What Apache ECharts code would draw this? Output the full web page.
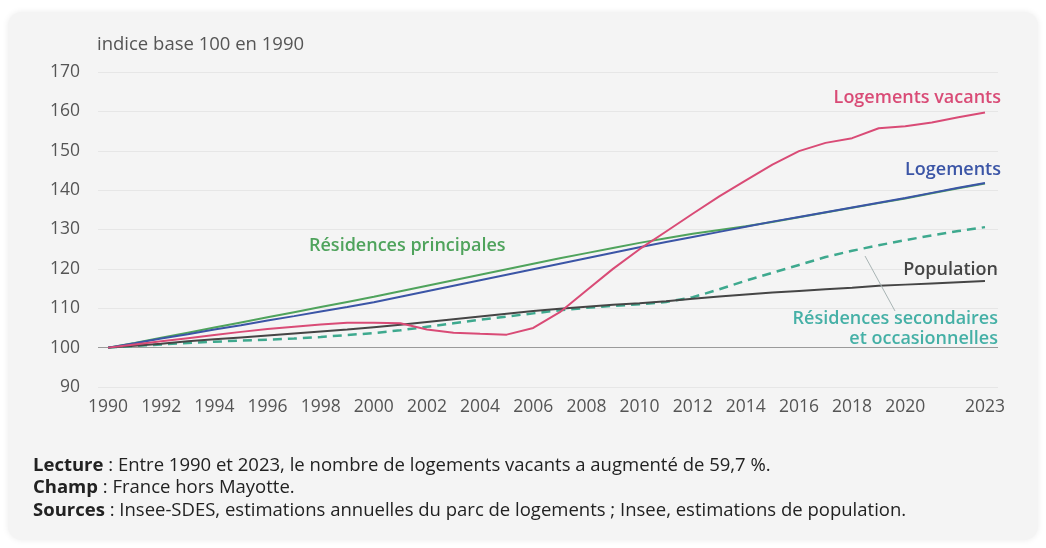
<!DOCTYPE html>
<html><head><meta charset="utf-8">
<script src="https://cdn.jsdelivr.net/npm/echarts@6/dist/echarts.min.js"></script>
<style>html,body{margin:0;padding:0;background:#fff;}#c{width:1046px;height:548px;}</style>
</head><body><div id="c"></div>
<script>
const years = [1990,1991,1992,1993,1994,1995,1996,1997,1998,1999,2000,2001,2002,2003,2004,2005,2006,2007,2008,2009,2010,2011,2012,2013,2014,2015,2016,2017,2018,2019,2020,2021,2022,2023];
const tickYears = [1990,1992,1994,1996,1998,2000,2002,2004,2006,2008,2010,2012,2014,2016,2018,2020,2023];
const residencesPrincipales = [100,101.2,102.5,103.8,105.1,106.4,107.7,109,110.3,111.6,112.9,114.3,115.7,117.1,118.5,119.9,121.3,122.7,124,125.3,126.6,127.8,128.9,129.9,130.8,131.9,133.1,134.3,135.5,136.7,137.9,139.2,140.5,141.7];
const logements = [100,101.1,102.3,103.4,104.6,105.7,106.9,108,109.2,110.3,111.5,112.9,114.3,115.7,117.1,118.5,119.9,121.3,122.7,124.1,125.5,126.8,128.1,129.4,130.7,132,133.2,134.4,135.6,136.8,138,139.3,140.6,141.8];
const logementsVacants = [100,100.8,101.6,102.4,103.2,104,104.7,105.3,105.9,106.3,106.3,106.2,104.6,103.8,103.5,103.3,105,109,114.5,120,125,129.5,134,138.4,142.5,146.5,149.9,152,153.2,155.7,156.2,157.2,158.5,159.7];
const residencesSecondaires = [100,100.4,100.8,101.2,101.5,101.8,102,102.3,102.7,103.2,103.7,104.4,105.3,106.2,107.1,107.9,108.7,109.5,110.1,110.6,111,111.6,112.8,114.8,117,119,121,123,124.6,126,127.3,128.5,129.6,130.6];
const population = [100,100.5,101,101.6,102.1,102.6,103.1,103.6,104.1,104.6,105.2,105.8,106.5,107.2,107.9,108.6,109.3,109.9,110.4,110.9,111.3,111.8,112.4,113,113.5,114,114.4,114.8,115.2,115.7,116,116.3,116.6,116.9];
const yTicks = {min: 90, max: 170, interval: 10};

const pair = arr => years.map((y, i) => [y, arr[i]]);
const FONT = '"Open Sans", "Noto Sans", sans-serif';
const C = {green:'#4fa35c', blue:'#3b55a6', pink:'#d94b76', teal:'#3ea98e', tealText:'#45b0a6', dark:'#454545'};

const chart = echarts.init(document.getElementById('c'), null, {renderer:'canvas'});
const gridColors = ['#e6e6e6','#9a9a9a','#e6e6e6','#e6e6e6','#e6e6e6','#e6e6e6','#e6e6e6','#e6e6e6','#e6e6e6'];
const LBL = '600 18px ' + FONT;
chart.setOption({
  backgroundColor:'#ffffff',
  animation:false,
  textStyle:{fontFamily:FONT},
  grid:{left:98, right:48, top:72, bottom:161},
  xAxis:{type:'value', min:1989.62, max:2023.49,
    axisLine:{show:false}, axisTick:{show:false}, splitLine:{show:false},
    axisLabel:{customValues:tickYears, color:'#555', fontSize:17.5, margin:11, fontFamily:FONT, formatter: v => String(v)}},
  yAxis:{type:'value', min:yTicks.min, max:yTicks.max, interval:yTicks.interval,
    axisLine:{show:false}, axisTick:{show:false},
    axisLabel:{color:'#555', fontSize:17.5, margin:18, fontFamily:FONT},
    splitLine:{lineStyle:{color:gridColors, width:1}}},
  series:[
    {name:'Résidences principales', type:'line', data:pair(residencesPrincipales), showSymbol:false, lineStyle:{color:C.green, width:2}, z:2},
    {name:'Résidences secondaires et occasionnelles', type:'line', data:pair(residencesSecondaires), showSymbol:false, lineStyle:{color:C.teal, width:2.5, type:[9,6]}, z:3},
    {name:'Population', type:'line', data:pair(population), showSymbol:false, lineStyle:{color:C.dark, width:2}, z:4},
    {name:'Logements', type:'line', data:pair(logements), showSymbol:false, lineStyle:{color:C.blue, width:2}, z:5},
    {name:'Logements vacants', type:'line', data:pair(logementsVacants), showSymbol:false, lineStyle:{color:C.pink, width:2}, z:6}
  ],
  graphic:{elements:[
    {type:'rect', z:-10, shape:{x:8, y:12, width:1030, height:528, r:14}, style:{fill:'#f4f4f4', shadowBlur:6, shadowColor:'rgba(0,0,0,0.08)'}, silent:true},
    {type:'text', z:100, x:97, y:45, style:{text:'indice base 100 en 1990', fill:'#555', font:'18.5px '+FONT, verticalAlign:'middle'}},
    {type:'text', z:100, x:1001, y:98, style:{text:'Logements vacants', fill:C.pink, font:LBL, align:'right', verticalAlign:'middle'}},
    {type:'text', z:100, x:1001, y:170, style:{text:'Logements', fill:C.blue, font:LBL, align:'right', verticalAlign:'middle'}},
    {type:'text', z:100, x:309, y:246, style:{text:'Résidences principales', fill:C.green, font:LBL, verticalAlign:'middle'}},
    {type:'text', z:100, x:998, y:270, style:{text:'Population', fill:C.dark, font:LBL, align:'right', verticalAlign:'middle'}},
    {type:'text', z:100, x:998, y:329, style:{text:'Résidences secondaires\net occasionnelles', fill:C.tealText, font:LBL, align:'right', verticalAlign:'middle', lineHeight:20}},
    {type:'line', z:100, shape:{x1:865, y1:256, x2:895, y2:311}, style:{stroke:'#a8b4b4', lineWidth:1}},
    {type:'text', z:100, x:33, y:454, style:{
      text:'{b|Lecture} : Entre 1990 et 2023, le nombre de logements vacants a augmenté de 59,7 %.\n{b|Champ} : France hors Mayotte.\n{b|Sources} : Insee-SDES, estimations annuelles du parc de logements ; Insee, estimations de population.',
      fill:'#222', font:'18.5px '+FONT, lineHeight:22.5, verticalAlign:'top',
      rich:{b:{fontWeight:'bold', fontSize:18.5, fill:'#222', fontFamily:FONT, lineHeight:22.5}}}}
  ]}
});
</script></body></html>
